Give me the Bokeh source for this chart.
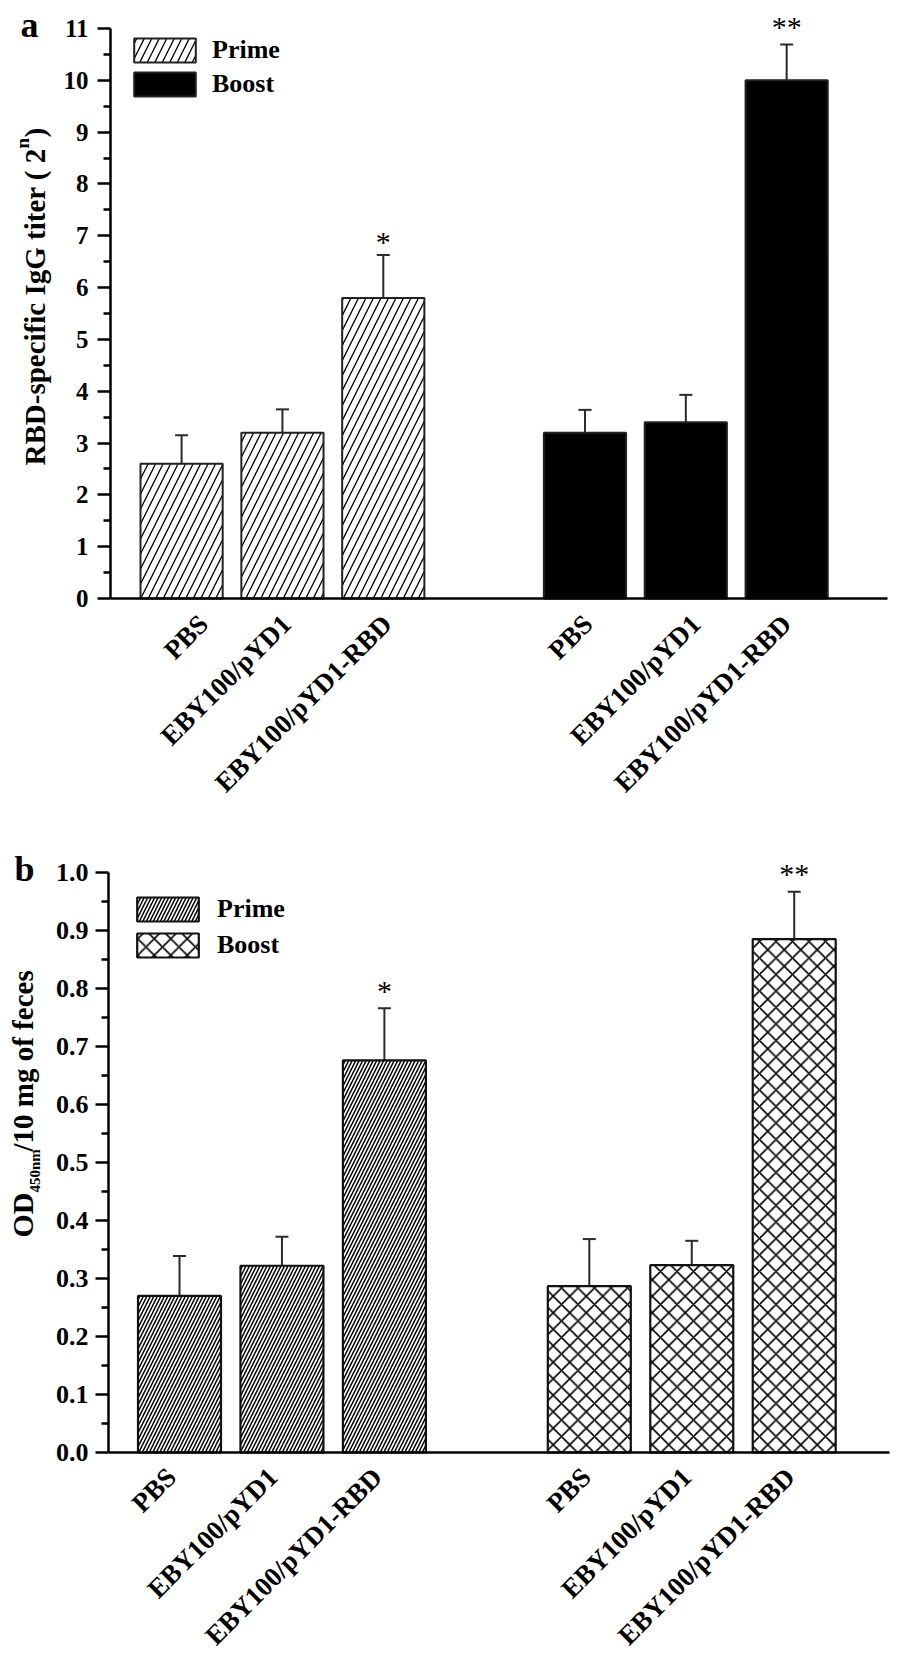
import math
from bokeh.plotting import figure
from bokeh.models import (FixedTicker, Whisker, TeeHead, ColumnDataSource, Label,
                          Legend, LegendItem, Range1d)
from bokeh.layouts import column
from bokeh.embed import file_html
from bokeh.resources import INLINE

# ---------------- data ----------------
groups = ["PBS", "EBY100/pYD1", "EBY100/pYD1-RBD"]
series = ["Prime", "Boost"]

a_prime = [2.6, 3.2, 5.8]
a_prime_err = [0.55, 0.45, 0.83]
a_boost = [3.2, 3.4, 10.0]
a_boost_err = [0.44, 0.53, 0.69]
a_prime_sig = ["", "", "*"]
a_boost_sig = ["", "", "**"]
a_yticks = [0, 1, 2, 3, 4, 5, 6, 7, 8, 9, 10, 11]

b_prime = [0.270, 0.322, 0.676]
b_prime_err = [0.069, 0.050, 0.090]
b_boost = [0.287, 0.323, 0.885]
b_boost_err = [0.081, 0.042, 0.082]
b_prime_sig = ["", "", "*"]
b_boost_sig = ["", "", "**"]
b_yticks = [0.0, 0.1, 0.2, 0.3, 0.4, 0.5, 0.6, 0.7, 0.8, 0.9, 1.0]
b_ytick_labels = ["0.0", "0.1", "0.2", "0.3", "0.4", "0.5", "0.6", "0.7", "0.8", "0.9", "1.0"]

FONT = "Liberation Serif"
n = len(groups)
x_prime = [1 + i for i in range(n)]
x_boost = [n + 2 + i for i in range(n)]


class Panel:
    """The frame fills the whole figure; both axes sit at fixed data locations inside it,
    so every text (axis titles, panel letter, tick labels) lies inside the frame."""

    def __init__(self, x0, x1, y0, y1, left_px, right_px, top_px, bottom_px, plot_w, plot_h):
        self.ppx = plot_w / (x1 - x0)
        self.ppy = plot_h / (y1 - y0)
        self.x0, self.y0 = x0, y0
        xr = (x0 - left_px / self.ppx, x1 + right_px / self.ppx)
        yr = (y0 - bottom_px / self.ppy, y1 + top_px / self.ppy)
        self.fw = left_px + plot_w + right_px
        self.fh = bottom_px + plot_h + top_px
        p = figure(x_range=Range1d(*xr), y_range=Range1d(*yr),
                   frame_width=self.fw, frame_height=self.fh,
                   min_border_left=0, min_border_right=0, min_border_top=0, min_border_bottom=0,
                   output_backend="svg", toolbar_location=None, outline_line_color=None)
        p.grid.visible = False
        p.yaxis.fixed_location = x0
        p.yaxis.bounds = (y0, y1)
        p.xaxis.fixed_location = y0
        p.xaxis.bounds = (x0, x1)
        self.p = p

    def text_px(self, text, rel_x, rel_y, size, angle=0.0, align="left", baseline="middle",
                style="bold"):
        # position in screen px relative to the axes origin (x to the right, y upward)
        self.p.add_layout(Label(x=self.x0, y=self.y0, x_offset=rel_x, y_offset=rel_y, text=text,
                                angle=angle, text_align=align, text_baseline=baseline,
                                text_font=FONT, text_font_style=style,
                                text_font_size=f"{size}px", text_color="black"))


def build(panel, prime, prime_err, boost, boost_err, psig, bsig, yticks, ylabels, bar_w,
          prime_style, boost_style, leg_loc, leg_spacing, leg_standoff, label_shift, tick_fs,
          ystandoff, xstandoff, sig_gap):
    p = panel.p
    rs = []
    for xs, vals, errs, sig, style, gap in ((x_prime, prime, prime_err, psig, prime_style, sig_gap[0]),
                                            (x_boost, boost, boost_err, bsig, boost_style, sig_gap[1])):
        src = ColumnDataSource(dict(x=xs, top=vals, upper=[v + e for v, e in zip(vals, errs)]))
        r = p.vbar(x="x", top="top", width=bar_w, source=src, **style)
        rs.append(r)
        p.add_layout(Whisker(base="x", lower="top", upper="upper", source=src, dimension="height",
                             line_color="#2a2a2a", line_width=2, lower_head=None,
                             upper_head=TeeHead(size=13, line_color="#2a2a2a", line_width=2)))
        for xv, v, e, s in zip(xs, vals, errs, sig):
            if s:
                p.add_layout(Label(x=xv, y=v + e, y_offset=gap, text=s, text_align="center",
                                   text_baseline="alphabetic", text_font=FONT,
                                   text_font_size="30px", text_color="black"))

    # x axis: invisible ticks, rotated category labels (small per-label nudges in px)
    tick_pos = [xv + sh / panel.ppx for xv, sh in zip(x_prime + x_boost, label_shift)]
    p.xaxis.ticker = FixedTicker(ticks=tick_pos)
    p.xaxis.major_label_overrides = {t: g for t, g in zip(tick_pos, groups + groups)}
    p.xaxis.major_label_orientation = math.pi / 4
    p.xaxis.major_tick_line_color = None
    p.xaxis.minor_tick_line_color = None
    p.xaxis.major_label_standoff = xstandoff
    p.xaxis.major_label_text_font_size = "27px"

    minor = [(a + b) / 2 for a, b in zip(yticks[:-1], yticks[1:])]
    p.yaxis.ticker = FixedTicker(ticks=yticks, minor_ticks=minor)
    if ylabels is not None:
        p.yaxis.major_label_overrides = {t: l for t, l in zip(yticks, ylabels)}
    p.yaxis.major_tick_out = 13
    p.yaxis.major_tick_in = 0
    p.yaxis.minor_tick_out = 7
    p.yaxis.minor_tick_in = 0
    p.yaxis.major_label_standoff = ystandoff
    p.yaxis.major_label_text_font_size = f"{tick_fs}px"
    for ax in (p.xaxis, p.yaxis):
        ax.axis_line_width = 2.5
        ax.axis_line_color = "black"
        ax.major_tick_line_width = 2.5
        ax.minor_tick_line_width = 2.5
        ax.major_label_text_font = FONT
        ax.major_label_text_font_style = "bold"
        ax.major_label_text_color = "black"

    # legend swatches are drawn inset by 10 % of the glyph box, hence 77 x 30
    legend = Legend(items=[LegendItem(label=series[0], renderers=[rs[0]]),
                           LegendItem(label=series[1], renderers=[rs[1]])],
                    location=leg_loc, glyph_width=77, glyph_height=30, label_height=30,
                    spacing=leg_spacing, padding=0, margin=0, label_standoff=leg_standoff,
                    border_line_color=None, background_fill_alpha=0,
                    label_text_font=FONT, label_text_font_style="bold",
                    label_text_font_size="26px", label_text_color="black")
    p.add_layout(legend)
    return p


# ---------- panel a ----------
A = Panel(0.295, 8.0, 0, 11, 110, 3, 28, 244, 777, 570)
build(A, a_prime, a_prime_err, a_boost, a_boost_err, a_prime_sig, a_boost_sig,
      a_yticks, None, 0.815,
      dict(fill_color="white", hatch_pattern="right_diagonal_line", hatch_scale=15,
           hatch_weight=1.3, hatch_color="black", line_color="#222222", line_width=2),
      dict(fill_color="black", line_color="#222222", line_width=2),
      (126, 743), 4, 9, [22, 4, 4, 3, 10, 0], 25, 9, 15, (13, 18))
A.text_px("RBD-specific IgG titer ( 2", -76, 133, 29, angle=math.pi / 2)
A.text_px("n", -88, 450, 19, angle=math.pi / 2)
A.text_px(")", -76, 461, 29, angle=math.pi / 2)
A.text_px("a", -90, 574, 36, baseline="alphabetic")

# ---------- panel b ----------
B = Panel(0.307, 7.93, 0, 1.0, 108, 1, 30, 203, 781, 580)
build(B, b_prime, b_prime_err, b_boost, b_boost_err, b_prime_sig, b_boost_sig,
      b_yticks, b_ytick_labels, 0.81,
      dict(fill_color="white", hatch_pattern="right_diagonal_line", hatch_scale=7,
           hatch_weight=1.5, hatch_color="black", line_color="#111111", line_width=2.2),
      dict(fill_color="white", hatch_pattern="diagonal_cross", hatch_scale=16.5,
           hatch_weight=1.6, hatch_color="black", line_color="#111111", line_width=2.2),
      (129, 695), 6, 11, [-8, -9, -7, -3, -5, -4], 26, 7, 14, (18, 18))
B.text_px("OD", -86, 215, 30, angle=math.pi / 2)
B.text_px("450nm", -74, 260, 15, angle=math.pi / 2)
B.text_px("/10 mg of feces", -86, 301, 29, angle=math.pi / 2)
B.text_px("b", -94, 584, 36, baseline="alphabetic")

layout = column(A.p, B.p)
open("out.html", "w").write(file_html(layout, INLINE))
